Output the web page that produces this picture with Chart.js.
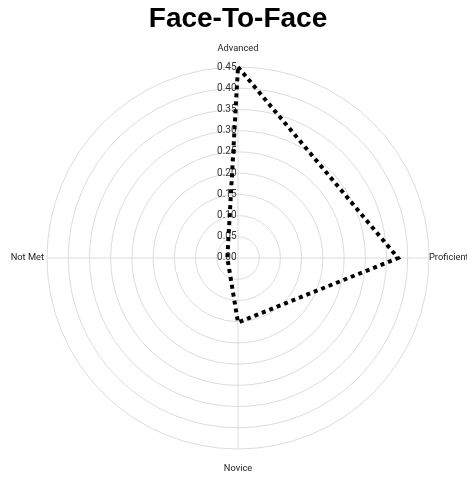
<!DOCTYPE html>
<html>
<head>
<meta charset="utf-8">
<script src="https://cdn.jsdelivr.net/npm/chart.js@4.4.0/dist/chart.umd.min.js"></script>
<style>
  html, body { margin: 0; padding: 0; background: #fff; }
  #wrap { width: 467px; height: 477px; }
</style>
</head>
<body>
<div id="wrap"><canvas id="radarChart"></canvas></div>
<script>
// categories and values
const categories = ['Advanced', 'Proficient', 'Novice', 'Not Met'];
const faceToFace = [0.45, 0.377, 0.152, 0.025];
const tickValues = [0, 0.05, 0.1, 0.15, 0.2, 0.25, 0.3, 0.35, 0.4, 0.45];

// point labels drawn by hand so they sit close to the outer ring like the original
const axisLabelsPlugin = {
    id: 'axisLabels',
    afterDraw(chart) {
        const scale = chart.scales.r;
        const c = chart.ctx;
        const gaps = [18, 0, 20, 3];
        c.save();
        c.font = '9.3px Roboto';
        c.fillStyle = '#222';
        c.textBaseline = 'middle';
        scale._pointLabels.forEach((label, i) => {
            const p = scale.getPointPosition(i, scale.drawingArea + gaps[i]);
            if (i % 2 === 0) c.textAlign = 'center';
            else c.textAlign = p.x > scale.xCenter ? 'left' : 'right';
            c.fillText(label, p.x, p.y);
        });
        c.restore();
    }
};

const ctx = document.getElementById('radarChart').getContext('2d');
const chart = new Chart(ctx, {
    type: 'radar',
    data: {
        labels: categories,
        datasets: [{
            label: 'Face-To-Face',
            data: faceToFace,
            borderColor: '#000',
            borderWidth: 4,
            borderDash: [4, 4],
            fill: false,
            pointRadius: 0,
            tension: 0
        }]
    },
    options: {
        responsive: true,
        maintainAspectRatio: false,
        animation: false,
        layout: { padding: { top: 0, bottom: 3, left: 40, right: 31 } },
        plugins: {
            legend: { display: false },
            tooltip: { enabled: false },
            title: {
                display: true,
                text: 'Face-To-Face',
                color: '#000',
                font: { family: 'Liberation Sans', size: 28, weight: 'bold' },
                padding: { top: 2, bottom: 7 }
            }
        },
        scales: {
            r: {
                // tiny negative min so the 0.00 label gets drawn at the centre
                min: -0.0001,
                max: 0.45,
                afterBuildTicks: (axis) => {
                    axis.ticks = tickValues.map(v => ({ value: v }));
                },
                grid: { circular: true, color: '#dcdcdc', lineWidth: 1 },
                angleLines: { color: '#dcdcdc', lineWidth: 1 },
                ticks: {
                    showLabelBackdrop: false,
                    color: '#333',
                    font: { family: 'Roboto', size: 10 },
                    callback: (v) => v.toFixed(2) + '         '
                },
                pointLabels: { display: false }
            }
        }
    },
    plugins: [axisLabelsPlugin]
});
</script>
</body>
</html>
